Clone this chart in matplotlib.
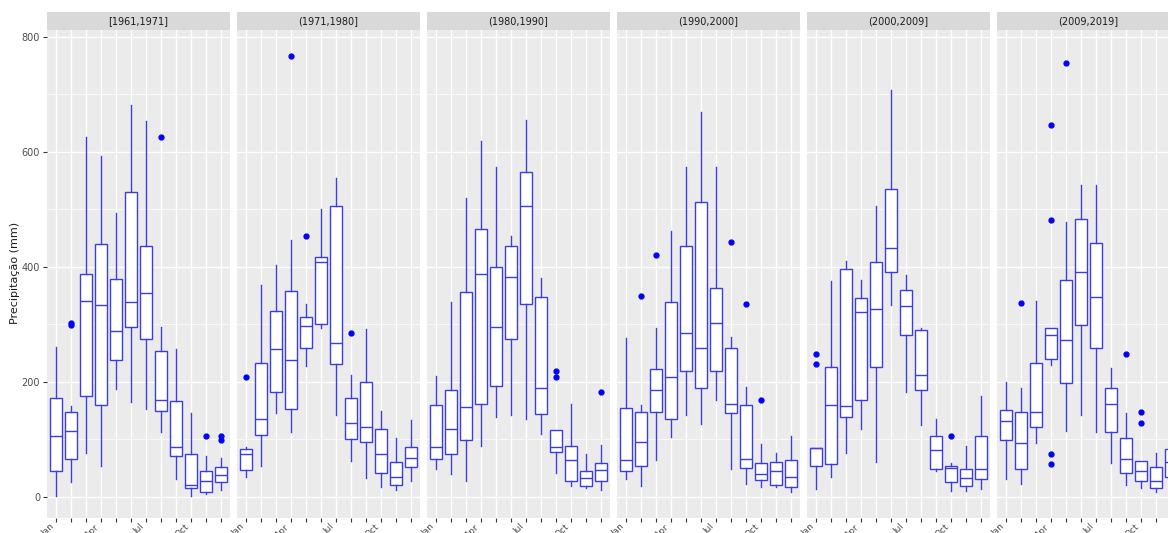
import matplotlib.pyplot as plt
import matplotlib.transforms as mtransforms
from matplotlib.ticker import MultipleLocator

periods = ['[1961,1971]', '(1971,1980]', '(1980,1990]', '(1990,2000]', '(2000,2009]', '(2009,2019]']
months = ['Jan', 'Feb', 'Mar', 'Apr', 'May', 'Jun', 'Jul', 'Aug', 'Sep', 'Oct', 'Nov', 'Dec']
shown = ['Jan', 'Apr', 'Jul', 'Oct']

# box statistics per period (rows) and month (columns), mm
whislo = [
    [1, 25, 76, 53, 187, 164, 153, 112, 31, 1, 4, 12],
    [35, 54, 146, 112, 228, 294, 142, 62, 33, 17, 11, 27],
    [48, 39, 28, 89, 138, 142, 136, 110, 42, 18, 15, 12],
    [31, 19, 64, 104, 142, 126, 169, 49, 22, 17, 17, 9],
    [14, 34, 76, 118, 61, 333, 183, 125, 44, 10, 10, 14],
    [30, 22, 93, 229, 115, 143, 112, 59, 21, 15, 8, 10],
]
q1 = [
    [44, 66, 176, 160, 238, 295, 275, 150, 71, 16, 8, 26],
    [47, 108, 182, 152, 259, 300, 231, 101, 95, 41, 21, 52],
    [66, 74, 98, 162, 192, 275, 336, 144, 78, 28, 19, 27],
    [45, 54, 148, 135, 219, 189, 219, 145, 50, 29, 21, 17],
    [54, 57, 138, 169, 226, 391, 281, 185, 48, 25, 18, 30],
    [99, 49, 122, 239, 197, 298, 259, 112, 42, 27, 15, 34],
]
med = [
    [106, 114, 341, 334, 288, 338, 355, 169, 87, 21, 28, 38],
    [74, 136, 257, 238, 297, 408, 268, 129, 121, 74, 34, 68],
    [86, 118, 156, 388, 296, 382, 505, 190, 87, 64, 33, 46],
    [64, 95, 185, 209, 284, 258, 303, 161, 66, 40, 45, 34],
    [84, 159, 158, 322, 327, 432, 331, 211, 81, 50, 33, 48],
    [131, 94, 148, 281, 272, 391, 347, 162, 65, 45, 27, 60],
]
q3 = [
    [172, 147, 387, 439, 379, 531, 437, 254, 167, 75, 44, 52],
    [83, 232, 323, 358, 312, 417, 505, 171, 199, 118, 61, 86],
    [159, 185, 356, 466, 399, 436, 565, 347, 116, 89, 44, 59],
    [155, 147, 222, 339, 436, 512, 363, 259, 159, 59, 61, 64],
    [84, 226, 396, 346, 409, 536, 359, 290, 106, 53, 49, 106],
    [151, 148, 233, 293, 377, 483, 442, 189, 103, 62, 51, 83],
]
whishi = [
    [260, 157, 626, 593, 494, 681, 653, 296, 257, 146, 71, 67],
    [86, 369, 403, 446, 336, 500, 555, 211, 291, 149, 102, 134],
    [210, 338, 520, 619, 574, 453, 656, 380, 116, 162, 75, 90],
    [277, 159, 293, 462, 574, 669, 574, 278, 191, 92, 76, 105],
    [85, 375, 410, 377, 506, 707, 385, 294, 135, 59, 89, 175],
    [199, 190, 340, 293, 478, 543, 543, 224, 146, 62, 76, 95],
]
fliers = [
    [[], [303, 298], [], [], [], [], [], [626], [], [], [106], [105, 98]],
    [[209], [], [], [767], [454], [], [], [284], [], [], [], []],
    [[], [], [], [], [], [], [], [], [218, 208], [], [], [183]],
    [[], [349], [421], [], [], [], [], [443], [335], [169], [], []],
    [[249, 231], [], [], [], [], [], [], [], [], [105], [], []],
    [[], [337], [], [646, 482, 75, 57], [754], [], [], [], [249], [147, 128], [], []],
]

W, H = 1168, 533
line_col = '#3c3ce0'
fig = plt.figure(figsize=(W / 100, H / 100), dpi=100)
shift = mtransforms.ScaledTranslation(5 / 100, 4 / 100, fig.dpi_scale_trans)

for i, period in enumerate(periods):
    left = 47 + i * 190
    ax = fig.add_axes([left / W, 15 / H, 183 / W, 488 / H])
    stats = []
    for m in range(12):
        stats.append(dict(whislo=whislo[i][m], q1=q1[i][m], med=med[i][m],
                          q3=q3[i][m], whishi=whishi[i][m], fliers=fliers[i][m]))
    ax.bxp(stats, positions=range(1, 13), widths=0.75, patch_artist=True,
           showcaps=False, manage_ticks=False,
           boxprops=dict(facecolor='white', edgecolor=line_col, linewidth=1),
           whiskerprops=dict(color=line_col, linewidth=1),
           medianprops=dict(color=line_col, linewidth=1),
           flierprops=dict(marker='o', markerfacecolor='blue', markeredgecolor='blue',
                           markersize=3.5))
    ax.set_facecolor('#EBEBEB')
    ax.set_xlim(0.4, 12.6)
    ax.set_ylim(-37, 812)
    ax.set_xticks(range(1, 13))
    ax.set_xticklabels([mo if mo in shown else '' for mo in months],
                       rotation=45, ha='right', va='top', fontsize=6.5, color='#4D4D4D')
    for lab in ax.get_xticklabels():
        lab.set_transform(lab.get_transform() + shift)
    ax.yaxis.set_major_locator(MultipleLocator(200))
    ax.yaxis.set_minor_locator(MultipleLocator(100))
    ax.grid(which='major', color='white', linewidth=1)
    ax.grid(which='minor', axis='y', color='white', linewidth=0.5)
    ax.set_axisbelow(True)
    for s in ax.spines.values():
        s.set_visible(False)
    ax.tick_params(which='major', length=3, width=0.8, color='#333333', pad=0)
    ax.tick_params(which='minor', length=0)
    if i == 0:
        ax.tick_params(axis='y', labelsize=7, labelcolor='#4D4D4D', pad=2)
    else:
        ax.tick_params(axis='y', left=False, labelleft=False)

    strip = fig.add_axes([left / W, 503 / H, 183 / W, 18 / H])
    strip.set_facecolor('#D9D9D9')
    strip.set_xticks([])
    strip.set_yticks([])
    for s in strip.spines.values():
        s.set_visible(False)
    strip.text(0.5, 0.5, period, ha='center', va='center', fontsize=7, color='#1A1A1A',
               transform=strip.transAxes)

fig.text(15 / W, (H - 273) / H, 'Precipitação (mm)', rotation=90, ha='center', va='center',
         fontsize=8, color='#1A1A1A')

fig.savefig('out.png', dpi=100, facecolor='white')
